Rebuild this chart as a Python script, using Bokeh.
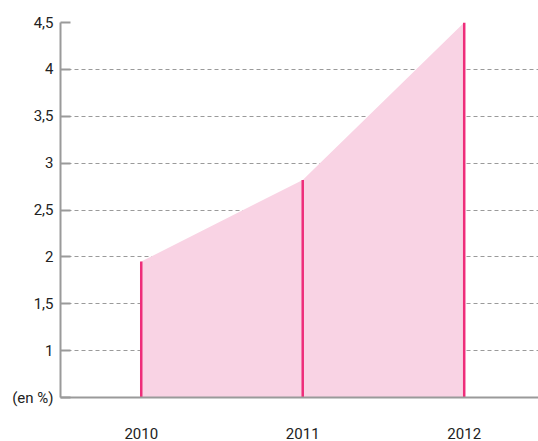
from bokeh.plotting import figure
from bokeh.models import ColumnDataSource, FixedTicker, Range1d
from bokeh.embed import file_html
from bokeh.resources import INLINE

years = [2010, 2011, 2012]
values = [1.95, 2.82, 4.5]
y_ticks = [0.5, 1, 1.5, 2, 2.5, 3, 3.5, 4, 4.5]
y_labels = {0.5: "(en %)", 1: "1", 1.5: "1,5", 2: "2", 2.5: "2,5", 3: "3", 3.5: "3,5", 4: "4", 4.5: "4,5"}
baseline = 0.5

FONT = "Roboto"

p = figure(width=538, height=441, output_backend="svg", toolbar_location=None,
           x_range=Range1d(2009.5, 2012.46), y_range=Range1d(0.5, 4.5),
           min_border_left=60, min_border_right=0, min_border_top=22, min_border_bottom=41)
p.outline_line_color = None
p.background_fill_color = "white"

src = ColumnDataSource(dict(x=years, y=values, b=[baseline]*len(years)))
p.varea(x="x", y1="b", y2="y", source=src, fill_color="#f9d3e4", fill_alpha=1)
p.segment(x0="x", y0="b", x1="x", y1="y", source=src, line_color="#ee2d7a", line_width=2.5)

p.xgrid.visible = False
p.ygrid.ticker = FixedTicker(ticks=y_ticks[1:])
p.ygrid.grid_line_color = "#9a9a9a"
p.ygrid.grid_line_dash = "4 3"
p.ygrid.grid_line_width = 1

p.yaxis.ticker = FixedTicker(ticks=y_ticks)
p.yaxis.major_label_overrides = y_labels
p.yaxis.axis_line_color = "#9a9a9a"
p.yaxis.axis_line_width = 2
p.yaxis.major_tick_in = 10
p.yaxis.major_tick_out = 0
p.yaxis.major_tick_line_color = "#9a9a9a"
p.yaxis.major_tick_line_width = 2
p.yaxis.minor_tick_line_color = None
p.yaxis.major_label_text_font = FONT
p.yaxis.major_label_text_font_size = "15px"
p.yaxis.major_label_text_color = "#222222"
p.yaxis.major_label_standoff = 7

p.xaxis.ticker = FixedTicker(ticks=years)
p.xaxis.axis_line_color = "#9a9a9a"
p.xaxis.axis_line_width = 2
p.xaxis.major_tick_line_color = None
p.xaxis.minor_tick_line_color = None
p.xaxis.major_label_text_font = FONT
p.xaxis.major_label_text_font_size = "15px"
p.xaxis.major_label_text_color = "#222222"
p.xaxis.major_label_standoff = 24

open("out.html", "w").write(file_html(p, INLINE))
